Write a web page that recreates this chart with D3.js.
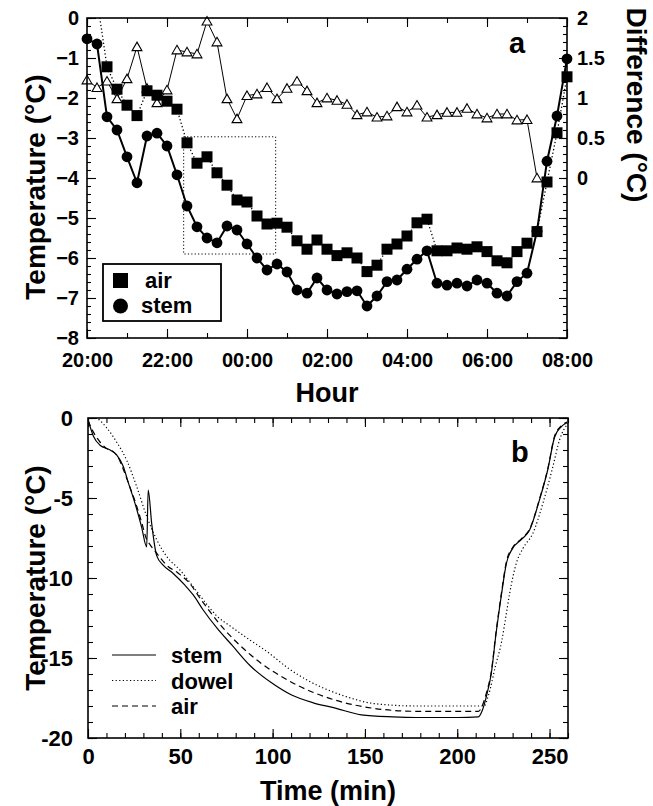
<!DOCTYPE html>
<html><head><meta charset="utf-8">
<script src="https://cdn.jsdelivr.net/npm/d3@7"></script>
<style>body{margin:0;background:#fff}svg{display:block}text{font-family:"Liberation Sans",Arial,sans-serif;font-weight:bold;fill:#000}</style>
</head><body><div id="chart"></div>
<script>
// ---------- Panel a data ----------
const timesA = ["20:00","20:15","20:30","20:45","21:00","21:15","21:30","21:45","22:00","22:15","22:30","22:45",
"23:00","23:15","23:30","23:45","00:00","00:15","00:30","00:45","01:00","01:15","01:30","01:45",
"02:00","02:15","02:30","02:45","03:00","03:15","03:30","03:45","04:00","04:15","04:30","04:45",
"05:00","05:15","05:30","05:45","06:00","06:15","06:30","06:45","07:00","07:15","07:30","07:45","08:00"];
const stemA = [-0.52,-0.65,-2.47,-2.8,-3.47,-4.12,-2.95,-2.88,-3.2,-3.92,-4.7,-5.22,
-5.5,-5.62,-5.2,-5.3,-5.65,-6.0,-6.3,-6.15,-6.35,-6.8,-6.88,-6.5,
-6.8,-6.9,-6.84,-6.82,-7.2,-6.95,-6.59,-6.55,-6.28,-6.03,-5.82,-6.63,
-6.68,-6.63,-6.7,-6.55,-6.63,-6.88,-6.95,-6.59,-6.38,-5.33,-3.58,-2.45,-1.02];
const airA = [0.7,0.48,-1.22,-1.78,-2.18,-2.44,-1.82,-1.93,-2.08,-2.28,-3.12,-3.63,
-3.47,-3.87,-4.18,-4.55,-4.6,-4.95,-5.15,-5.13,-5.23,-5.57,-5.78,-5.55,
-5.78,-5.94,-5.87,-6.0,-6.34,-6.18,-5.78,-5.65,-5.45,-5.12,-5.03,-5.82,
-5.82,-5.75,-5.78,-5.72,-5.84,-6.07,-6.12,-5.84,-5.63,-5.34,-4.1,-2.87,-1.47];
const diffA = [1.225,1.13,1.21,0.99,1.24,1.64,1.12,0.94,1.1,1.6,1.575,1.55,
1.96,1.7,0.99,0.74,1.03,1.05,1.13,0.99,1.12,1.21,1.09,0.94,
1.0,0.97,0.92,0.79,0.825,0.76,0.775,0.89,0.825,0.91,0.76,0.79,
0.82,0.82,0.87,0.8,0.75,0.8,0.8,0.725,0.73,0.0,null,null,null];
const hourLabels = ["20:00","22:00","00:00","02:00","04:00","06:00","08:00"];
const tempTicksA = [0,-1,-2,-3,-4,-5,-6,-7,-8];
const diffTicks = [0,0.5,1,1.5,2];
const boxTime = ["22:25","00:43"];   // dotted rectangle (time extent)
const boxTemp = [-2.97,-5.9];        // dotted rectangle (temperature extent)

// ---------- Panel b data ----------
const stemB = [[0,-0.1],[3,-1.15],[6.5,-1.7],[12,-2.0],[15.5,-2.3],[19,-3.0],[22,-4.1],[25.5,-5.35],[29,-6.8],[31.8,-8.05],
[32.6,-4.5],[34.5,-6.6],[37.2,-8.6],[40.7,-9.2],[46,-9.7],[52.5,-10.45],[57,-11.06],[62.4,-12.0],[70,-13.15],[78,-14.2],
[88,-15.5],[100,-16.6],[110,-17.3],[122,-17.8],[133,-18.1],[148,-18.55],[165,-18.68],[178,-18.72],[200,-18.72],[211.5,-18.68],
[213.5,-18.3],[216,-17.3],[218.4,-16.0],[221,-13.5],[224,-11.0],[226.6,-9.1],[230,-8.15],[234.7,-7.6],[239.2,-7.0],[244.6,-5.1],
[249,-3.25],[252.7,-1.2],[256.3,-0.55],[259.5,-0.3]];
const dowelB = [[0,0.05],[5,-0.05],[10,-0.6],[15.5,-1.5],[21,-2.65],[26.4,-4.3],[31.8,-6.15],[37.2,-7.6],[42.6,-8.65],[49.8,-9.5],
[57,-10.55],[64,-11.6],[70,-12.4],[77,-13.0],[88,-13.9],[97,-14.6],[108,-15.6],[119,-16.4],[130,-17.0],[139.5,-17.4],[155,-17.85],
[178,-18.0],[214.5,-18.0],[217,-17.3],[220.7,-15.5],[224,-14.0],[226.5,-12.3],[228.4,-10.96],[232,-9.08],[235.6,-8.15],[241,-7.2],
[246.4,-5.33],[251.8,-3.04],[255.4,-1.38],[258.1,-0.65],[260,-0.35]];
const airB = [[0,-0.15],[3,-0.9],[6.5,-1.5],[10,-1.9],[13.7,-2.1],[16,-2.4],[19.1,-3.2],[22,-4.1],[25.5,-5.2],[29,-6.5],[31.8,-7.6],
[33.5,-7.9],[37.2,-8.45],[42.6,-9.2],[48.9,-9.7],[55.2,-10.35],[60.6,-11.25],[71.5,-12.9],[88,-14.8],[110,-16.5],[133,-17.6],
[155,-18.15],[178,-18.33],[211.5,-18.33],[213.5,-18.0],[216,-17.1],[218.4,-15.9],[221,-13.4],[224,-10.9],[226.6,-9.0],[230,-8.1],
[234.7,-7.55],[239.2,-6.95],[244.6,-5.05],[249,-3.2],[252.7,-1.15],[256.3,-0.5],[259.5,-0.25]];
const timeTicksB = [0,50,100,150,200,250];
const tempTicksB = [0,-5,-10,-15,-20];

// ---------- drawing ----------
const svg = d3.select("#chart").append("svg").attr("width",653).attr("height",806);
function toMin(s){const [h,m]=s.split(":").map(Number);return ((h*60+m)-1200+1440)%1440 || (h===20?0:720);}

// Panel a scales
const xA = d3.scaleLinear().domain([0,720]).range([87,567]);
const yA = d3.scaleLinear().domain([-8,0]).range([338,18]);
const yD = d3.scaleLinear().domain([-2,2]).range([338,18]);

function ticksAxis(g, axisFn, scale, values, size, labels, fmt, pad, fs){
  const ax = axisFn(scale).tickValues(values).tickSize(-size).tickPadding(pad||6)
    .tickFormat(labels? fmt : "");
  g.call(ax); g.select(".domain").remove();
  g.selectAll(".tick line").attr("stroke","#000").attr("stroke-width",1.1);
  g.selectAll("text").attr("font-size",fs||20).style("font-family","'Liberation Sans',Arial,sans-serif").style("font-weight","bold");
  return g;
}
const pa = svg.append("g");
// minor ticks
const minorTempA = d3.range(-8,0.001,0.2).map(v=>+v.toFixed(1));
const minorDiff = d3.range(-2,2.001,0.1).map(v=>+v.toFixed(1));
const hoursAll = d3.range(0,721,60);
ticksAxis(pa.append("g").attr("transform","translate(87,0)"), d3.axisLeft, yA, minorTempA, 4, false);
ticksAxis(pa.append("g").attr("transform","translate(87,0)"), d3.axisLeft, yA, tempTicksA, 9, true, d=>d===0?"0":d3.format("d")(d), 8)
  .selectAll("text").attr("dy","0.3em");
ticksAxis(pa.append("g").attr("transform","translate(567,0)"), d3.axisRight, yD, minorDiff, 4, false);
ticksAxis(pa.append("g").attr("transform","translate(567,0)"), d3.axisRight, yD, d3.range(-2,2.001,0.5), 8, false);
const rl = pa.append("g").attr("transform","translate(567,0)");
ticksAxis(rl, d3.axisRight, yD, diffTicks, 0, true, d=>String(d), 10);
ticksAxis(pa.append("g").attr("transform","translate(0,338)"), d3.axisBottom, xA, hoursAll, 5, false);
ticksAxis(pa.append("g").attr("transform","translate(0,338)"), d3.axisBottom, xA, hourLabels.map(toMin), 9, true, (d,i)=>hourLabels[i], 15);
ticksAxis(pa.append("g").attr("transform","translate(0,18)"), d3.axisTop, xA, hoursAll, 5, false);
ticksAxis(pa.append("g").attr("transform","translate(0,18)"), d3.axisTop, xA, hourLabels.map(toMin), 9, false);

// clip
svg.append("clipPath").attr("id","clipA").append("rect").attr("x",87).attr("y",18).attr("width",480).attr("height",320);
svg.append("clipPath").attr("id","clipB").append("rect").attr("x",88).attr("y",418).attr("width",480).attr("height",320);

const ptsA = timesA.map((t,i)=>({t:toMin(t),stem:stemA[i],air:airA[i],diff:diffA[i]}));
// dotted rectangle
pa.append("rect").attr("x",xA(toMin(boxTime[0]))).attr("y",yA(boxTemp[0]))
  .attr("width",xA(toMin(boxTime[1]))-xA(toMin(boxTime[0]))).attr("height",yA(boxTemp[1])-yA(boxTemp[0]))
  .attr("fill","none").attr("stroke","#000").attr("stroke-width",1).attr("stroke-dasharray","1.2,2.2");
// difference
const dpts = ptsA.filter(p=>p.diff!==null);
pa.append("path").datum(dpts).attr("clip-path","url(#clipA)")
  .attr("d",d3.line().x(p=>xA(p.t)).y(p=>yD(p.diff))).attr("fill","none").attr("stroke","#000").attr("stroke-width",1);
pa.selectAll(".tri").data(dpts).enter().append("path")
  .attr("d",d3.symbol().type(d3.symbolTriangle).size(42)).attr("transform",p=>`translate(${xA(p.t)},${yD(p.diff)+1})`)
  .attr("fill","#fff").attr("stroke","#000").attr("stroke-width",1.1);
// air
pa.append("path").datum(ptsA).attr("clip-path","url(#clipA)")
  .attr("d",d3.line().x(p=>xA(p.t)).y(p=>yA(p.air))).attr("fill","none").attr("stroke","#000").attr("stroke-width",1.3).attr("stroke-dasharray","1.3,2.3");
// stem
pa.append("path").datum(ptsA).attr("clip-path","url(#clipA)")
  .attr("d",d3.line().x(p=>xA(p.t)).y(p=>yA(p.stem))).attr("fill","none").attr("stroke","#000").attr("stroke-width",2);
pa.selectAll(".circ").data(ptsA).enter().append("circle")
  .attr("cx",p=>xA(p.t)).attr("cy",p=>yA(p.stem)).attr("r",5.4).attr("fill","#000");
pa.selectAll(".sq").data(ptsA.filter(p=>p.air<=0)).enter().append("rect")
  .attr("x",p=>xA(p.t)-5.5).attr("y",p=>yA(p.air)-5.5).attr("width",11).attr("height",11).attr("fill","#000");
// frame
pa.append("rect").attr("x",87).attr("y",18).attr("width",480).attr("height",320).attr("fill","none").attr("stroke","#000").attr("stroke-width",1.6);
// legend a
pa.append("rect").attr("x",103).attr("y",264).attr("width",118).attr("height",57).attr("fill","#fff").attr("stroke","#000").attr("stroke-width",1.8);
pa.append("rect").attr("x",113).attr("y",273).attr("width",15).attr("height",15).attr("fill","#000");
pa.append("circle").attr("cx",120.5).attr("cy",306).attr("r",7.5).attr("fill","#000");
pa.append("text").attr("x",145).attr("y",288).attr("font-size",22).text("air");
pa.append("text").attr("x",141).attr("y",313).attr("font-size",22).text("stem");
pa.append("text").attr("x",509).attr("y",53).attr("font-size",29).text("a");
// titles a
pa.append("text").attr("transform","translate(45,187) rotate(-90)").attr("text-anchor","middle").attr("font-size",28).text("Temperature (°C)");
pa.append("text").attr("transform","translate(627,105) rotate(90)").attr("text-anchor","middle").attr("font-size",28).text("Difference (°C)");
pa.append("text").attr("x",327).attr("y",402).attr("text-anchor","middle").attr("font-size",27).text("Hour");

// Panel b
const xB = d3.scaleLinear().domain([0,260]).range([88,568]);
const yB = d3.scaleLinear().domain([-20,0]).range([738,418]);
const pb = svg.append("g");
const minorX = d3.range(0,261,10), minorY = d3.range(-20,0.001,1);
ticksAxis(pb.append("g").attr("transform","translate(0,738)"), d3.axisBottom, xB, minorX, 5, false);
ticksAxis(pb.append("g").attr("transform","translate(0,738)"), d3.axisBottom, xB, timeTicksB, 9, true, d=>String(d), 10, 22);
ticksAxis(pb.append("g").attr("transform","translate(0,418)"), d3.axisTop, xB, minorX, 5, false);
ticksAxis(pb.append("g").attr("transform","translate(0,418)"), d3.axisTop, xB, timeTicksB, 9, false);
ticksAxis(pb.append("g").attr("transform","translate(88,0)"), d3.axisLeft, yB, minorY, 5, false);
ticksAxis(pb.append("g").attr("transform","translate(88,0)"), d3.axisLeft, yB, tempTicksB, 9, true, d=>String(d), 15, 22);
ticksAxis(pb.append("g").attr("transform","translate(568,0)"), d3.axisRight, yB, minorY, 5, false);
ticksAxis(pb.append("g").attr("transform","translate(568,0)"), d3.axisRight, yB, tempTicksB, 9, false);
const lineB = d3.line().x(d=>xB(d[0])).y(d=>yB(d[1])).curve(d3.curveMonotoneX);
pb.append("path").datum(dowelB).attr("clip-path","url(#clipB)").attr("d",lineB).attr("fill","none").attr("stroke","#000").attr("stroke-width",1.2).attr("stroke-dasharray","1.2,2.4");
pb.append("path").datum(airB).attr("clip-path","url(#clipB)").attr("d",lineB).attr("fill","none").attr("stroke","#000").attr("stroke-width",1.2).attr("stroke-dasharray","6,4");
pb.append("path").datum(stemB).attr("clip-path","url(#clipB)").attr("d",lineB).attr("fill","none").attr("stroke","#000").attr("stroke-width",1.2);
pb.append("rect").attr("x",88).attr("y",418).attr("width",480).attr("height",320).attr("fill","none").attr("stroke","#000").attr("stroke-width",1.6);
// legend b
const legB = [["stem",null],["dowel","1.2,2.4"],["air","6,4"]];
legB.forEach((d,i)=>{
  const y = 655 + i*25.5;
  const l = pb.append("line").attr("x1",112).attr("x2",156).attr("y1",y).attr("y2",y).attr("stroke","#000").attr("stroke-width",1.2);
  if(d[1]) l.attr("stroke-dasharray",d[1]);
  pb.append("text").attr("x",171).attr("y",y+8).attr("font-size",22).text(d[0]);
});
pb.append("text").attr("x",511).attr("y",462).attr("font-size",29).text("b");
pb.append("text").attr("transform","translate(45,578) rotate(-90)").attr("text-anchor","middle").attr("font-size",28).text("Temperature (°C)");
pb.append("text").attr("x",328).attr("y",800).attr("text-anchor","middle").attr("font-size",27).text("Time (min)");
</script></body></html>
